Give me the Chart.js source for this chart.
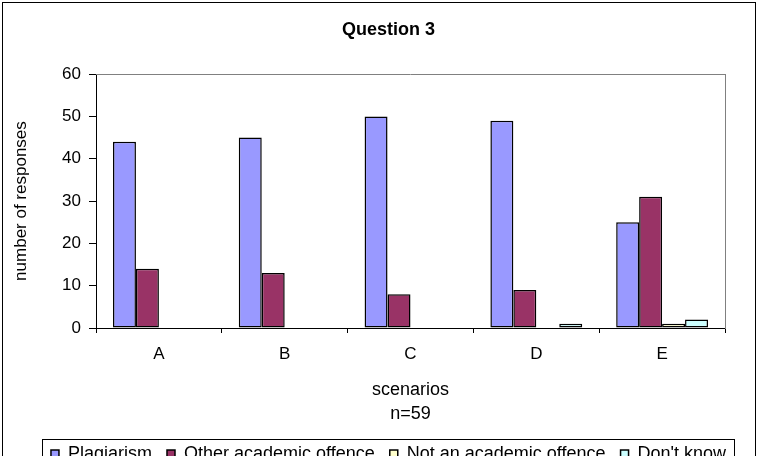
<!DOCTYPE html>
<html>
<head>
<meta charset="utf-8">
<script src="https://cdn.jsdelivr.net/npm/chart.js@4"></script>
<style>
  html, body { margin: 0; padding: 0; background: #fff; overflow: hidden; }
  #wrap { position: absolute; left: 0; top: 0; width: 763px; height: 456px; overflow: hidden; }
  canvas { position: absolute; left: 0; top: 0; }
</style>
</head>
<body>
<div id="wrap"><canvas id="chart" width="763" height="480"></canvas></div>
<script>
// data
const categories = ['A', 'B', 'C', 'D', 'E'];
const seriesNames = ['Plagiarism', 'Other academic offence', 'Not an academic offence', "Don't know"];
const plagiarism = [44, 45, 50, 49, 25];
const otherOffence = [14, 13, 8, 9, 31];
const notOffence = [0, 0, 0, 0, 1];
const dontKnow = [0, 0, 0, 1, 2];
const yMin = 0, yMax = 60, yStep = 10;

const colors = ['#9999FF', '#993366', '#FFFFCC', '#CCFFFF'];
const FONT = "'Liberation Sans', Arial, sans-serif";

Chart.defaults.color = '#000';
Chart.defaults.font.family = FONT;

// grey top border of the plot area, outer frame, and the box round the legend
const framePlugin = {
  id: 'frame',
  beforeDatasetsDraw(chart) {
    const { ctx, chartArea } = chart;
    ctx.save();
    ctx.strokeStyle = '#808080';
    ctx.lineWidth = 1;
    ctx.beginPath();
    ctx.moveTo(chartArea.left, Math.round(chartArea.top) + 0.5);
    ctx.lineTo(chartArea.right, Math.round(chartArea.top) + 0.5);
    ctx.stroke();
    ctx.restore();
  },
  afterDraw(chart) {
    const ctx = chart.ctx;
    ctx.save();
    ctx.strokeStyle = '#000';
    ctx.lineWidth = 1;
    ctx.strokeRect(2.5, 2.5, 753, chart.height);

    const boxes = chart.legend.legendHitBoxes;
    if (boxes && boxes.length) {
      const left = Math.min(...boxes.map(b => b.left)) - 9;
      const right = Math.max(...boxes.map(b => b.left + b.width)) + 8;
      const top = boxes[0].top - 6;
      ctx.strokeRect(Math.round(left) + 0.5, Math.round(top) + 0.5, Math.round(right - left), 60);
    }
    ctx.restore();
  }
};

const values = [plagiarism, otherOffence, notOffence, dontKnow];

new Chart(document.getElementById('chart'), {
  type: 'bar',
  data: {
    labels: categories,
    datasets: seriesNames.map((name, i) => ({
      label: name,
      data: values[i],
      backgroundColor: colors[i],
      borderColor: '#000',
      borderWidth: 1.5,
      borderSkipped: false,
      categoryPercentage: 0.73,
      barPercentage: 1.0
    }))
  },
  options: {
    responsive: false,
    maintainAspectRatio: false,
    animation: false,
    layout: { padding: { left: 14, right: 0, top: 0, bottom: 7 } },
    plugins: {
      title: {
        display: true,
        text: 'Question 3',
        font: { size: 18, weight: 'bold', family: FONT },
        color: '#000',
        padding: { top: 19, bottom: 33.5 }
      },
      legend: {
        position: 'bottom',
        labels: {
          boxWidth: 8,
          boxHeight: 8,
          padding: 15,
          color: '#000',
          font: { size: 18, family: FONT }
        }
      },
      tooltip: { enabled: false }
    },
    scales: {
      x: {
        grid: { display: true, drawOnChartArea: false, drawTicks: true, tickLength: 5, color: '#000', offset: true },
        border: { display: true, color: '#000', width: 1 },
        ticks: { padding: 11, font: { size: 17 }, color: '#000' },
        title: {
          display: true,
          text: ['scenarios', 'n=59'],
          font: { size: 18, lineHeight: 1.333 },
          color: '#000',
          padding: { top: 0, bottom: 3.5 }
        },
        afterFit(scale) { scale.height = 102; }
      },
      y: {
        min: yMin,
        max: yMax,
        grid: { drawOnChartArea: false, drawTicks: true, tickLength: 7, color: '#000' },
        border: { display: true, color: '#000', width: 1 },
        ticks: { stepSize: yStep, padding: 8, font: { size: 17 }, color: '#000' },
        title: {
          display: true,
          text: 'number of responses',
          font: { size: 17 },
          color: '#000',
          padding: { top: -3, bottom: 0 }
        },
        afterFit(scale) { scale.width = 82; }
      },
      y2: {
        position: 'right',
        min: yMin,
        max: yMax,
        grid: { display: false, drawOnChartArea: false, drawTicks: false },
        border: { display: true, color: '#808080', width: 1 },
        ticks: { display: false },
        afterFit(scale) { scale.width = 38; }
      }
    }
  },
  plugins: [framePlugin]
});
</script>
</body>
</html>
